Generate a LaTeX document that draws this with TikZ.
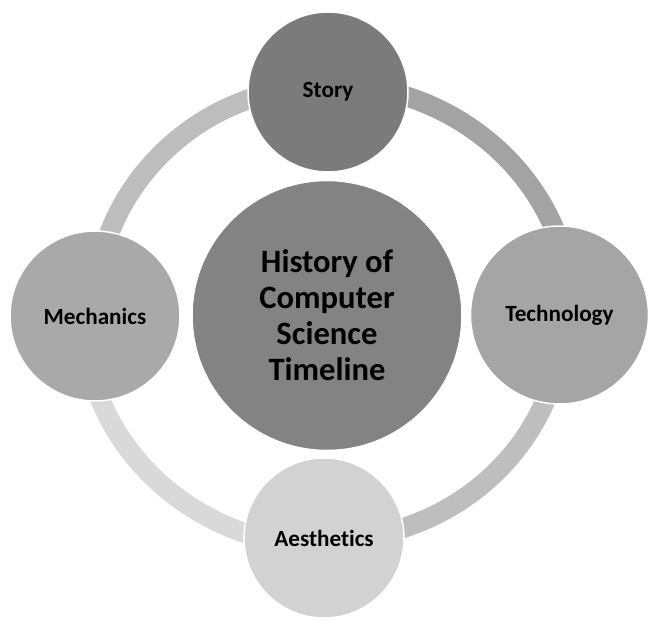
\documentclass[tikz,border=0pt]{standalone}
\usepackage{fontspec}
\setmainfont{Carlito}[Ligatures={NoCommon}]
\definecolor{cStory}{HTML}{7B7B7B}
\definecolor{cCenter}{HTML}{838383}
\definecolor{cTech}{HTML}{A5A5A5}
\definecolor{cMech}{HTML}{A9A9A9}
\definecolor{cAest}{HTML}{D2D2D2}
\definecolor{rTR}{HTML}{A3A3A3}
\definecolor{rTL}{HTML}{BDBDBD}
\definecolor{rBL}{HTML}{D9D9D9}
\definecolor{rBR}{HTML}{BEBEBE}
\tikzset{
  ringarc/.style={line width=20pt},
  bubble/.style={circle, draw=white, line width=1.5pt, inner sep=0pt, align=center,
    font=\fontsize{23.2}{27}\selectfont\bfseries, text=black},
  hub/.style={bubble, font=\fontsize{32.6}{36}\selectfont\bfseries}
}
\begin{document}
\begin{tikzpicture}[x=1pt,y=1pt]
\useasboundingbox (0,0) rectangle (657,624);
\coordinate (rc) at (327,309);
% ring arcs
\draw[ringarc, rTR] (rc) ++(90:245 and 231) arc[start angle=90, end angle=0, x radius=245, y radius=231];
\draw[ringarc, rTL] (rc) ++(90:233 and 229) arc[start angle=90, end angle=180, x radius=233, y radius=229];
\draw[ringarc, rBL] (rc) ++(180:243.5 and 231.5) arc[start angle=180, end angle=270, x radius=243.5, y radius=231.5];
\draw[ringarc, rBR] (rc) ++(270:236 and 225) arc[start angle=270, end angle=360, x radius=236, y radius=225];
% nodes
\node[hub, fill=cCenter, minimum size=270pt] (center) at (327,308.5) {History of\\Computer\\Science\\Timeline};
\node[bubble, fill=cStory, minimum size=160pt] (story) at (328,532) {Story};
\node[bubble, fill=cTech, minimum size=178pt] (tech) at (559.5,309) {Technology};
\node[bubble, fill=cAest, minimum size=160pt] (aest) at (324,86) {Aesthetics};
\node[bubble, fill=cMech, minimum size=170pt] (mech) at (95,308) {Mechanics};
\end{tikzpicture}
\end{document}
